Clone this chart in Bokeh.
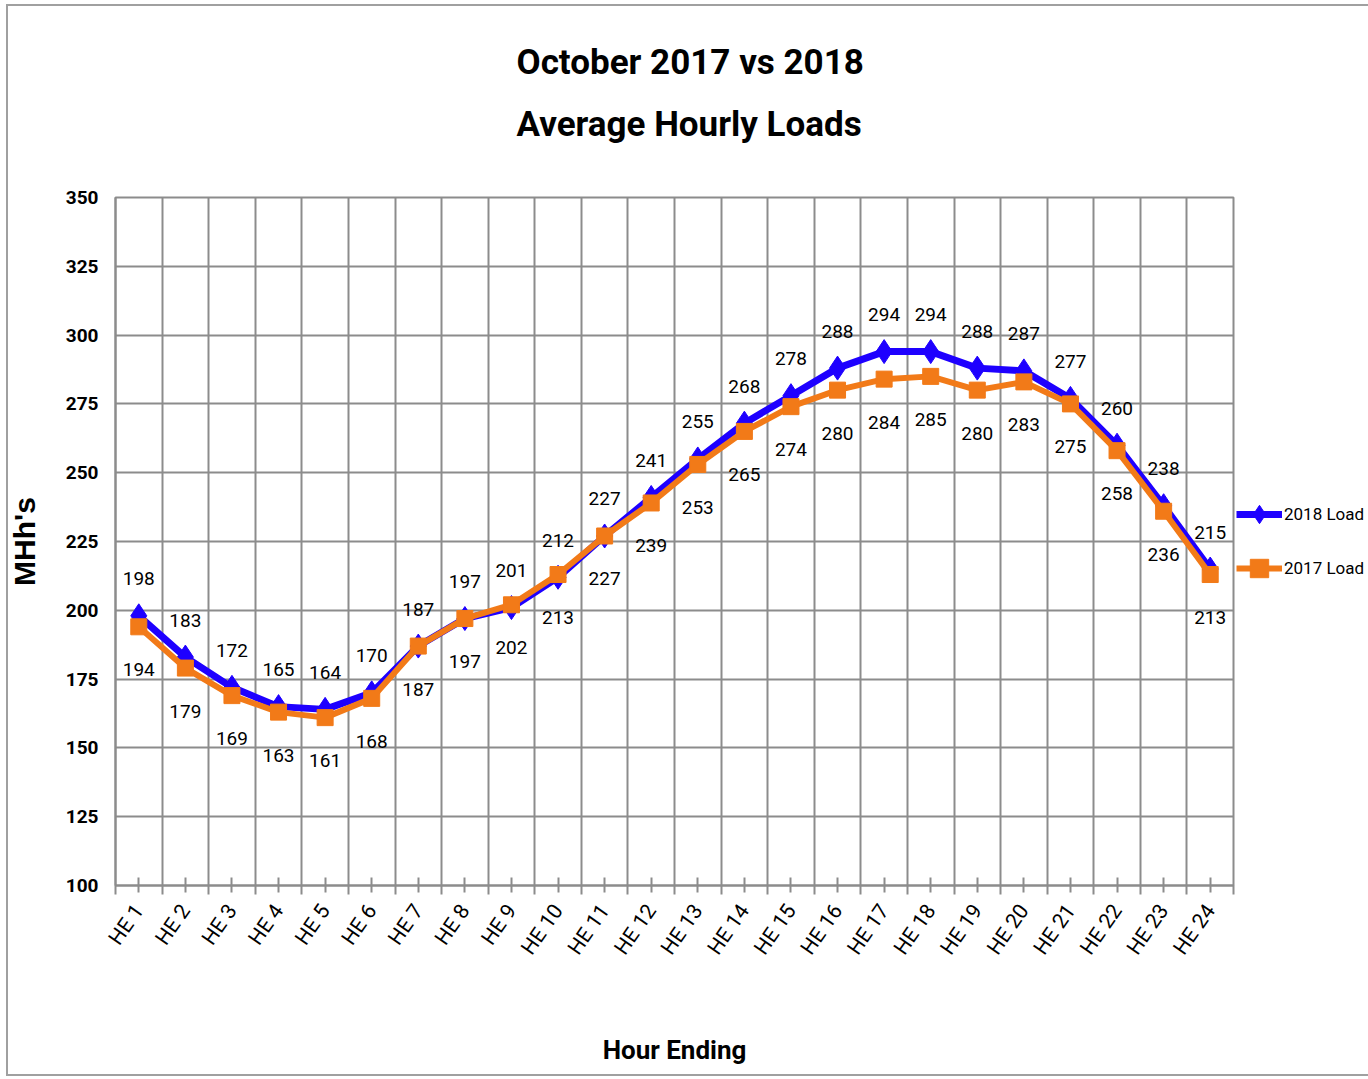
from bokeh.plotting import figure
from bokeh.models import (ColumnDataSource, FixedTicker, LabelSet, Legend,
                          LegendItem, InlineStyleSheet, Title)
from bokeh.core.properties import value
from bokeh.embed import file_html
from bokeh.resources import INLINE

hours = ["HE 1", "HE 2", "HE 3", "HE 4", "HE 5", "HE 6", "HE 7", "HE 8",
         "HE 9", "HE 10", "HE 11", "HE 12", "HE 13", "HE 14", "HE 15", "HE 16",
         "HE 17", "HE 18", "HE 19", "HE 20", "HE 21", "HE 22", "HE 23", "HE 24"]
load_2018 = [198, 183, 172, 165, 164, 170, 187, 197, 201, 212, 227, 241,
             255, 268, 278, 288, 294, 294, 288, 287, 277, 260, 238, 215]
load_2017 = [194, 179, 169, 163, 161, 168, 187, 197, 202, 213, 227, 239,
             253, 265, 274, 280, 284, 285, 280, 283, 275, 258, 236, 213]
y_ticks = [100, 125, 150, 175, 200, 225, 250, 275, 300, 325, 350]

FONT = "Roboto"
GRID = "#8c8c8c"
BLUE = "#1e00ff"
ORANGE = "#f27a18"
FRAME = "#a0a0a0"

x = list(range(1, len(hours) + 1))
bounds = [i - 0.5 for i in x] + [x[-1] + 0.5]

src = ColumnDataSource(dict(
    x=x, y18=load_2018, y17=load_2017,
    t18=[str(v) for v in load_2018], t17=[str(v) for v in load_2017]))

p = figure(frame_width=1118, frame_height=688, x_range=(0.5, 24.5), y_range=(100, 350),
           output_backend="svg", toolbar_location=None,
           min_border_left=115, min_border_right=135,
           min_border_top=197, min_border_bottom=192)
g = f"linear-gradient({FRAME},{FRAME})"
p.stylesheets = [InlineStyleSheet(css=(
    ":host { background: "
    f"{g} left 6px top 4px / 2px 1072px no-repeat, "
    f"{g} left 6px top 4px / 1362px 2px no-repeat, "
    f"{g} left 6px top 1074px / 1362px 2px no-repeat, white; }}"))]
p.background_fill_color = "white"
p.border_fill_alpha = 0
p.outline_line_color = GRID
p.outline_line_width = 2

p.xgrid.ticker = FixedTicker(ticks=bounds)
p.ygrid.ticker = FixedTicker(ticks=y_ticks)
for gr in (p.xgrid, p.ygrid):
    gr.grid_line_color = GRID
    gr.grid_line_width = 2
    gr.grid_line_alpha = 1

xa = p.xaxis[0]
xa.ticker = FixedTicker(ticks=x, minor_ticks=bounds)
xa.major_label_overrides = {i: h for i, h in zip(x, hours)}
xa.major_label_orientation = 0.96
xa.major_label_text_font = FONT
xa.major_label_text_font_size = "21px"
xa.major_label_text_color = "black"
xa.major_label_standoff = 12
xa.axis_line_color = GRID
xa.axis_line_width = 2
xa.major_tick_line_color = GRID
xa.major_tick_line_width = 2
xa.major_tick_in = 8
xa.major_tick_out = 7
xa.minor_tick_line_color = GRID
xa.minor_tick_line_width = 2
xa.minor_tick_in = 0
xa.minor_tick_out = 9
xa.axis_label = "Hour Ending"
xa.axis_label_text_font = FONT
xa.axis_label_text_font_style = "bold"
xa.axis_label_text_font_size = "26px"
xa.axis_label_text_color = "black"
xa.axis_label_standoff = 66

ya = p.yaxis[0]
ya.ticker = FixedTicker(ticks=y_ticks)
ya.major_label_text_font = FONT
ya.major_label_text_font_style = "bold"
ya.major_label_text_font_size = "19px"
ya.major_label_text_color = "black"
ya.major_label_standoff = 17
ya.axis_line_color = GRID
ya.axis_line_width = 2
ya.major_tick_in = 0
ya.major_tick_out = 0
ya.minor_tick_line_color = None
ya.axis_label = "MHh's"
ya.axis_label_text_font = "Liberation Sans"
ya.axis_label_text_font_style = "bold"
ya.axis_label_text_font_size = "30px"
ya.axis_label_text_color = "black"
ya.axis_label_standoff = 22

l18 = p.line("x", "y18", source=src, line_color=BLUE, line_width=7)
s18 = p.scatter("x", "y18", source=src, marker="diamond", size=24,
                fill_color=BLUE, line_color=BLUE)
l17 = p.line("x", "y17", source=src, line_color=ORANGE, line_width=6)
s17 = p.scatter("x", "y17", source=src, marker="square", size=16,
                fill_color=ORANGE, line_color=ORANGE)

lab_kw = dict(text_font=value(FONT), text_font_size="19px", text_color="black",
              text_align="center", text_baseline="middle")
p.add_layout(LabelSet(x="x", y="y18", text="t18", source=src, y_offset=37, **lab_kw))
p.add_layout(LabelSet(x="x", y="y17", text="t17", source=src, y_offset=-43, **lab_kw))

legend = Legend(items=[LegendItem(label="2018 Load", renderers=[l18, s18]),
                       LegendItem(label="2017 Load", renderers=[l17, s17])],
                location="center_left", border_line_color=None,
                background_fill_alpha=0, padding=0, margin=3, spacing=8,
                glyph_width=46, glyph_height=46, label_standoff=2,
                label_text_font=FONT, label_text_font_size="17px",
                label_text_color="black")
p.add_layout(legend, "right")

title_kw = dict(text_font=FONT, text_font_style="bold", text_font_size="35px",
                align="left", offset=401, vertical_align="bottom", text_color="black")
p.add_layout(Title(text="Average Hourly Loads", standoff=106, **title_kw), "above")
p.add_layout(Title(text="October 2017 vs 2018", standoff=-68, **title_kw), "above")

open("out.html", "w").write(file_html(p, INLINE))
